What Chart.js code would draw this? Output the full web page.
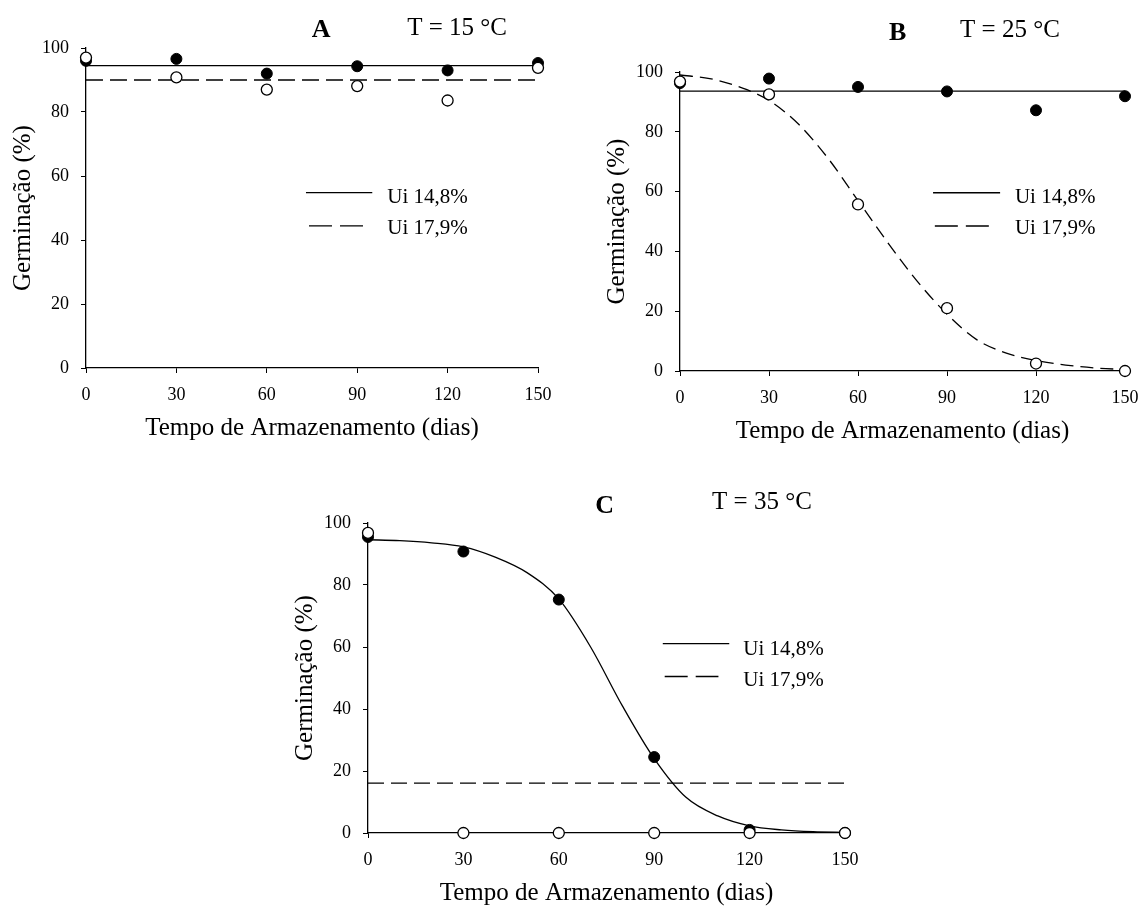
<!DOCTYPE html>
<html>
<head>
<meta charset="utf-8">
<script src="https://cdn.jsdelivr.net/npm/chart.js@4.4.1/dist/chart.umd.min.js"></script>
<style>
    body { margin: 0; background: #fff; overflow: hidden; width: 1139px; height: 907px; position: relative; }
    canvas { position: absolute; }
</style>
</head>
<body>
<canvas id="chartA" width="559" height="447" style="left:4px;top:0px"></canvas>
<canvas id="chartB" width="552" height="450" style="left:598px;top:0px"></canvas>
<canvas id="chartC" width="584" height="439" style="left:286px;top:473px"></canvas>
<script>
const days = [0, 30, 60, 90, 120, 150];
const fitEnds = [0, 150];
const curveDays = [0, 10, 20, 30, 40, 50, 60, 70, 80, 90, 100, 110, 120, 130, 140, 150];
const seriesNames = ["Ui 14,8%", "Ui 17,9%"];
const xTicks = [0, 30, 60, 90, 120, 150];
const yTicks = [0, 20, 40, 60, 80, 100];

// A: T = 15 °C
const germA148 = [96.0, 96.6, 92.0, 94.3, 93.0, 95.3];
const germA179 = [97.0, 90.8, 87.0, 88.1, 83.6, 93.8];
const fitA148 = [94.5, 94.5];
const fitA179 = [90.0, 90.0];

// B: T = 25 °C
const germB148 = [96.3, 97.8, 95.0, 93.5, 87.2, 91.9];
const germB179 = [96.8, 92.5, 55.7, 21.0, 2.5, 0.0];
const fitB148 = [93.6, 93.6];
const fitB179 = [99, 97.8, 95, 90.5, 82.5, 71, 57, 43, 30, 19, 10.5, 6, 3.5, 2, 1, 0.5];

// C: T = 35 °C
const germC148 = [95.5, 90.8, 75.3, 24.5, 1.0, 0.0];
const germC179 = [96.8, 0.0, 0.0, 0.0, 0.0, 0.0];
const fitC148 = [94.6, 94.3, 93.6, 92.3, 89, 84, 75.5, 60, 41, 24, 11.5, 5.5, 2.3, 1, 0.4, 0.2];
const fitC179 = [16.1, 16.1];

const serif = "'Liberation Serif', 'Times New Roman', serif";
const legendDash = [23, 8];

function pts(xs, ys) {
    return xs.map((x, i) => ({ x: x, y: ys[i] }));
}

// panel letter, temperature and the legend inside the plot
const panelText = {
    id: "panelText",
    afterDraw(chart, args, opts) {
        const { ctx, scales: { x, y } } = chart;
        ctx.save();
        ctx.fillStyle = "#000";
        ctx.textBaseline = "middle";

        ctx.font = "bold 26px " + serif;
        ctx.textAlign = "center";
        ctx.fillText(opts.letter, x.getPixelForValue(opts.letterAt[0]), y.getPixelForValue(opts.letterAt[1]));

        ctx.font = "25px " + serif;
        ctx.textAlign = "left";
        ctx.fillText(opts.temp, x.getPixelForValue(opts.tempAt[0]), y.getPixelForValue(opts.tempAt[1]));

        const lg = opts.legend;
        ctx.strokeStyle = "#000";
        ctx.lineWidth = 1.4;
        ctx.beginPath();
        ctx.setLineDash([]);
        ctx.moveTo(x.getPixelForValue(lg.solid[0]), y.getPixelForValue(lg.solid[2]));
        ctx.lineTo(x.getPixelForValue(lg.solid[1]), y.getPixelForValue(lg.solid[2]));
        ctx.stroke();
        ctx.beginPath();
        ctx.setLineDash(legendDash);
        ctx.moveTo(x.getPixelForValue(lg.dashed[0]), y.getPixelForValue(lg.dashed[2]));
        ctx.lineTo(x.getPixelForValue(lg.dashed[1]), y.getPixelForValue(lg.dashed[2]));
        ctx.stroke();

        ctx.font = "21px " + serif;
        ctx.fillText(seriesNames[0], x.getPixelForValue(lg.textX), y.getPixelForValue(lg.textY[0]));
        ctx.fillText(seriesNames[1], x.getPixelForValue(lg.textX), y.getPixelForValue(lg.textY[1]));
        ctx.restore();
    },
};

function makeChart(id, d) {
    const ctx = document.getElementById(id).getContext("2d");
    return new Chart(ctx, {
        type: "scatter",
        data: {
            datasets: [
                {
                    label: seriesNames[1] + " obs",
                    data: pts(days, d.open),
                    pointRadius: 5.5,
                    pointBackgroundColor: "#fff",
                    pointBorderColor: "#000",
                    pointBorderWidth: 1.3,
                    clip: false,
                    order: 0,
                },
                {
                    label: seriesNames[0] + " obs",
                    data: pts(days, d.filled),
                    pointRadius: 5.5,
                    pointBackgroundColor: "#000",
                    pointBorderColor: "#000",
                    pointBorderWidth: 1,
                    clip: false,
                    order: 1,
                },
                {
                    label: seriesNames[0],
                    data: pts(d.solidX, d.solid),
                    showLine: true,
                    pointRadius: 0,
                    borderColor: "#000",
                    borderWidth: 1.3,
                    cubicInterpolationMode: "monotone",
                    clip: false,
                    order: 2,
                },
                {
                    label: seriesNames[1],
                    data: pts(d.dashedX, d.dashed),
                    showLine: true,
                    pointRadius: 0,
                    borderColor: "#000",
                    borderWidth: 1.3,
                    borderDash: d.dash,
                    cubicInterpolationMode: "monotone",
                    clip: false,
                    order: 3,
                },
            ],
        },
        options: {
            responsive: false,
            animation: false,
            layout: { padding: { top: d.padTop, right: 25, left: 0, bottom: 0 } },
            plugins: {
                legend: { display: false },
                tooltip: { enabled: false },
                panelText: d.text,
            },
            scales: {
                x: {
                    type: "linear",
                    min: 0,
                    max: 150,
                    afterBuildTicks: (s) => { s.ticks = xTicks.map((v) => ({ value: v })); },
                    afterFit: (s) => { s.height = 79; },
                    ticks: { color: "#000", font: { family: serif, size: 18 }, padding: 11 },
                    grid: { drawOnChartArea: false, drawTicks: true, tickLength: 5, color: "#000" },
                    border: { color: "#000", width: 1.3 },
                    title: { display: true, text: "Tempo de Armazenamento (dias)", color: "#000", font: { family: serif, size: 25 } },
                },
                y: {
                    type: "linear",
                    min: 0,
                    max: 100,
                    afterBuildTicks: (s) => { s.ticks = yTicks.map((v) => ({ value: v })); },
                    afterFit: (s) => { s.width = 82; },
                    ticks: { color: "#000", font: { family: serif, size: 18 }, padding: 12 },
                    grid: { drawOnChartArea: false, drawTicks: true, tickLength: 5, color: "#000" },
                    border: { color: "#000", width: 1.3 },
                    title: { display: true, text: "Germinação (%)", color: "#000", font: { family: serif, size: 25 } },
                },
            },
        },
        plugins: [panelText],
    });
}

makeChart("chartA", {
    padTop: 48,
    filled: germA148, open: germA179,
    solidX: fitEnds, solid: fitA148,
    dashedX: fitEnds, dashed: fitA179, dash: [17, 7],
    text: {
        letter: "A", letterAt: [78, 105.5],
        temp: "T = 15 °C", tempAt: [106.6, 106],
        legend: { solid: [73, 95, 54.8], dashed: [74, 92, 44.4], textX: 100, textY: [53.2, 43.5] },
    },
});

makeChart("chartB", {
    padTop: 72,
    filled: germB148, open: germB179,
    solidX: fitEnds, solid: fitB148,
    dashedX: curveDays, dashed: fitB179, dash: [13, 7],
    text: {
        letter: "B", letterAt: [73.4, 112.8],
        temp: "T = 25 °C", tempAt: [94.4, 113.9],
        legend: { solid: [85.3, 107.9, 59.6], dashed: [85.9, 104.4, 48.5], textX: 112.9, textY: [58, 47.6] },
    },
});

makeChart("chartC", {
    padTop: 50,
    filled: germC148, open: germC179,
    solidX: curveDays, solid: fitC148,
    dashedX: fitEnds, dashed: fitC179, dash: [16, 7],
    text: {
        letter: "C", letterAt: [74.4, 105.4],
        temp: "T = 35 °C", tempAt: [108.2, 106.5],
        legend: { solid: [92.7, 113.6, 61.1], dashed: [93.3, 110.2, 50.5], textX: 118, textY: [59.1, 49.2] },
    },
});
</script>
</body>
</html>
